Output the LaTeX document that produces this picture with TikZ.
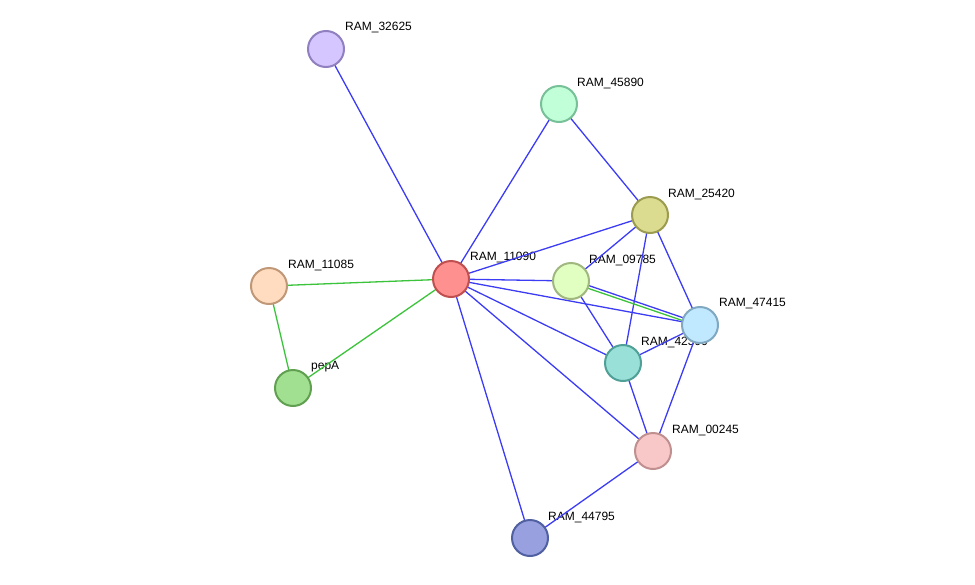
\documentclass[tikz,border=0pt]{standalone}
\usepackage{fontspec}
\setmainfont{Liberation Sans}
\tikzset{
  prot/.style = {circle, minimum size=36pt, inner sep=0pt, line width=2pt},
  lbl/.style = {anchor=west, font=\fontsize{12}{14}\selectfont, inner sep=0pt},
  blue edge/.style = {draw={rgb,255:red,60;green,60;blue,245}, line width=1.3pt},
  green edge/.style = {draw={rgb,255:red,60;green,195;blue,60}, line width=1.3pt}
}
\begin{document}
\begin{tikzpicture}[x=1pt,y=-1pt]
\useasboundingbox (0,0) rectangle (975,584);

% labels first, so the circles cover them
\node[lbl] at (345,28) {RAM\_32625};
\node[lbl] at (577,83) {RAM\_45890};
\node[lbl] at (668,194) {RAM\_25420};
\node[lbl] at (470,257) {RAM\_11090};
\node[lbl] at (589,260) {RAM\_09785};
\node[lbl] at (288,265) {RAM\_11085};
\node[lbl] at (719,304) {RAM\_47415};
\node[lbl] at (641,342) {RAM\_42390};
\node[lbl] at (311,367) {pepA};
\node[lbl] at (672,430) {RAM\_00245};
\node[lbl] at (548,517) {RAM\_44795};

% coordinates of the proteins
\coordinate (c32625) at (326,49);
\coordinate (c45890) at (559,104);
\coordinate (c25420) at (650,215);
\coordinate (c11090) at (451,279);
\coordinate (c09785) at (571,281);
\coordinate (c11085) at (269,286);
\coordinate (c47415) at (700,325);
\coordinate (c42390) at (623,363);
\coordinate (cpepA) at (293,388);
\coordinate (c00245) at (653,451);
\coordinate (c44795) at (530,538);

% edges
\draw[blue edge] (c32625)--(c11090);
\draw[blue edge] (c45890)--(c11090);
\draw[blue edge] (c45890)--(c25420);
\draw[blue edge] (c11090)--(c25420);
\draw[green edge] (c11085)--(c11090);
\draw[green edge] (c11085)--(cpepA);
\draw[green edge] (cpepA)--(c11090);
\draw[blue edge] (c11090)--(c09785);
\draw[blue edge] (c11090)--(c47415);
\draw[blue edge] (c11090)--(c42390);
\draw[blue edge] (c11090)--(c00245);
\draw[blue edge] (c11090)--(c44795);
\draw[blue edge] (c25420)--(c09785);
\draw[blue edge] (c25420)--(c42390);
\draw[blue edge] (c25420)--(c47415);
\draw[green edge] ([yshift=-1.5pt]c09785)--([yshift=-1.5pt]c47415);
\draw[blue edge] ([yshift=1.5pt]c09785)--([yshift=1.5pt]c47415);
\draw[blue edge] (c09785)--(c42390);
\draw[blue edge] (c42390)--(c47415);
\draw[blue edge] (c42390)--(c00245);
\draw[blue edge] (c47415)--(c00245);
\draw[blue edge] (c00245)--(c44795);

% proteins
\node[prot, fill={rgb,255:red,214;green,198;blue,255}, draw={rgb,255:red,144;green,128;blue,192}] (RAM 32625) at (c32625) {};
\node[prot, fill={rgb,255:red,192;green,255;blue,216}, draw={rgb,255:red,120;green,192;blue,152}] (RAM 45890) at (c45890) {};
\node[prot, fill={rgb,255:red,220;green,220;blue,144}, draw={rgb,255:red,156;green,156;blue,80}] (RAM 25420) at (c25420) {};
\node[prot, fill={rgb,255:red,255;green,144;blue,144}, draw={rgb,255:red,192;green,80;blue,80}] (RAM 11090) at (c11090) {};
\node[prot, fill={rgb,255:red,224;green,255;blue,192}, draw={rgb,255:red,160;green,184;blue,128}] (RAM 09785) at (c09785) {};
\node[prot, fill={rgb,255:red,255;green,220;blue,192}, draw={rgb,255:red,192;green,152;blue,120}] (RAM 11085) at (c11085) {};
\node[prot, fill={rgb,255:red,192;green,232;blue,255}, draw={rgb,255:red,128;green,168;blue,192}] (RAM 47415) at (c47415) {};
\node[prot, fill={rgb,255:red,152;green,224;blue,216}, draw={rgb,255:red,80;green,160;blue,152}] (RAM 42390) at (c42390) {};
\node[prot, fill={rgb,255:red,160;green,224;blue,144}, draw={rgb,255:red,96;green,160;blue,80}] (pepA) at (cpepA) {};
\node[prot, fill={rgb,255:red,248;green,200;blue,200}, draw={rgb,255:red,192;green,144;blue,144}] (RAM 00245) at (c00245) {};
\node[prot, fill={rgb,255:red,152;green,160;blue,224}, draw={rgb,255:red,80;green,96;blue,160}] (RAM 44795) at (c44795) {};

\end{tikzpicture}
\end{document}
